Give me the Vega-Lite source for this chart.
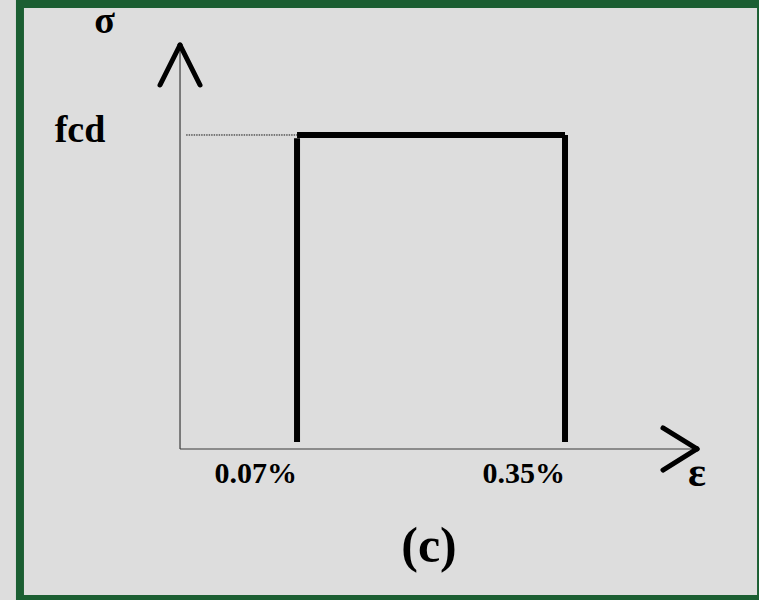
{
  "$schema": "https://vega.github.io/schema/vega-lite/v6.json",
  "description": "Rectangular (stress block) stress-strain diagram for concrete: sigma = fcd between strains 0.07% and 0.35%.",
  "width": 759,
  "height": 600,
  "autosize": "none",
  "padding": 0,
  "background": "#dddddd",
  "config": {"view": {"stroke": null}},
  "datasets": {
    "frame": [{"x0": -0.1069, "x1": 0.6104, "y0": -0.4777, "y1": 1.4172}],
    "axisLines": [
      {"x0": 0, "y0": 0, "x1": 0, "y1": 1.2866},
      {"x0": 0, "y0": 0, "x1": 0.5213, "y1": 0}
    ],
    "arrowHeads": [
      {"x0": 0, "y0": 1.2866, "x1": -0.00643, "y1": 1.1592},
      {"x0": 0, "y0": 1.2866, "x1": 0.00643, "y1": 1.1592},
      {"x0": 0.5213, "y0": 0, "x1": 0.4755, "y1": 0.0669},
      {"x0": 0.5213, "y0": 0, "x1": 0.4755, "y1": -0.0669}
    ],
    "fcdGuide": [{"x0": 0.0013, "y0": 1, "x1": 0.07, "y1": 1}],
    "stressBlock": [
      {"x0": 0.07, "y0": 0.022, "x1": 0.07, "y1": 0.99},
      {"x0": 0.07, "y0": 1, "x1": 0.35, "y1": 1},
      {"x0": 0.35, "y0": 0.022, "x1": 0.35, "y1": 1}
    ],
    "strainTicks": [
      {"eps": 0.07, "label": "0.07%"},
      {"eps": 0.35, "label": "0.35%"}
    ]
  },
  "layer": [
    {
      "data": {"name": "frame"},
      "mark": {"type": "rect", "fillOpacity": 0, "stroke": "#1b5e32", "strokeWidth": 8},
      "encoding": {
        "x": {"field": "x0", "type": "quantitative", "axis": null,
              "scale": {"type": "pow", "exponent": 0.74, "domain": [-0.1253, 0.6075], "nice": false, "zero": false}},
        "x2": {"field": "x1"},
        "y": {"field": "y0", "type": "quantitative", "axis": null,
              "scale": {"type": "linear", "domain": [-0.4809, 1.4299], "nice": false, "zero": false}},
        "y2": {"field": "y1"}
      }
    },
    {
      "data": {"name": "axisLines"},
      "mark": {"type": "rule", "stroke": "#3a3a3a", "strokeWidth": 1.2},
      "encoding": {
        "x": {"field": "x0", "type": "quantitative", "axis": null},
        "x2": {"field": "x1"},
        "y": {"field": "y0", "type": "quantitative", "axis": null},
        "y2": {"field": "y1"}
      }
    },
    {
      "data": {"name": "fcdGuide"},
      "mark": {"type": "rule", "stroke": "#111111", "strokeWidth": 1, "strokeDash": [1.5, 1]},
      "encoding": {
        "x": {"field": "x0", "type": "quantitative", "axis": null},
        "x2": {"field": "x1"},
        "y": {"field": "y0", "type": "quantitative", "axis": null},
        "y2": {"field": "y1"}
      }
    },
    {
      "data": {"name": "stressBlock"},
      "mark": {"type": "rule", "stroke": "#000000", "strokeWidth": 6},
      "encoding": {
        "x": {"field": "x0", "type": "quantitative", "axis": null},
        "x2": {"field": "x1"},
        "y": {"field": "y0", "type": "quantitative", "axis": null},
        "y2": {"field": "y1"}
      }
    },
    {
      "data": {"name": "arrowHeads"},
      "mark": {"type": "rule", "stroke": "#000000", "strokeWidth": 5, "strokeCap": "round"},
      "encoding": {
        "x": {"field": "x0", "type": "quantitative", "axis": null},
        "x2": {"field": "x1"},
        "y": {"field": "y0", "type": "quantitative", "axis": null},
        "y2": {"field": "y1"}
      }
    },
    {
      "data": {"name": "strainTicks"},
      "mark": {"type": "text", "align": "right", "baseline": "alphabetic", "font": "Liberation Serif", "fontWeight": "bold", "fontSize": 30, "color": "#000000"},
      "encoding": {
        "x": {"field": "eps", "type": "quantitative", "axis": null},
        "y": {"datum": -0.1083, "type": "quantitative", "axis": null},
        "text": {"field": "label"}
      }
    },
    {
      "data": {"values": [{}]},
      "mark": {"type": "text", "align": "center", "baseline": "alphabetic", "font": "Liberation Serif", "fontWeight": "bold", "fontSize": 38, "color": "#000000", "text": "σ"},
      "encoding": {
        "x": {"datum": -0.0387, "type": "quantitative", "axis": null},
        "y": {"datum": 1.3248, "type": "quantitative", "axis": null}
      }
    },
    {
      "data": {"values": [{}]},
      "mark": {"type": "text", "align": "center", "baseline": "alphabetic", "font": "Liberation Serif", "fontWeight": "bold", "fontSize": 42, "color": "#000000", "text": "ε"},
      "encoding": {
        "x": {"datum": 0.5213, "type": "quantitative", "axis": null},
        "y": {"datum": -0.1178, "type": "quantitative", "axis": null}
      }
    },
    {
      "data": {"values": [{}]},
      "mark": {"type": "text", "align": "center", "baseline": "alphabetic", "font": "Liberation Serif", "fontWeight": "bold", "fontSize": 38, "color": "#000000", "text": "fcd"},
      "encoding": {
        "x": {"datum": -0.0566, "type": "quantitative", "axis": null},
        "y": {"datum": 0.9777, "type": "quantitative", "axis": null}
      }
    },
    {
      "data": {"values": [{}]},
      "mark": {"type": "text", "align": "center", "baseline": "alphabetic", "font": "Liberation Serif", "fontWeight": "bold", "fontSize": 50, "color": "#000000", "text": "(c)"},
      "encoding": {
        "x": {"datum": 0.1942, "type": "quantitative", "axis": null},
        "y": {"datum": -0.3599, "type": "quantitative", "axis": null}
      }
    }
  ]
}
